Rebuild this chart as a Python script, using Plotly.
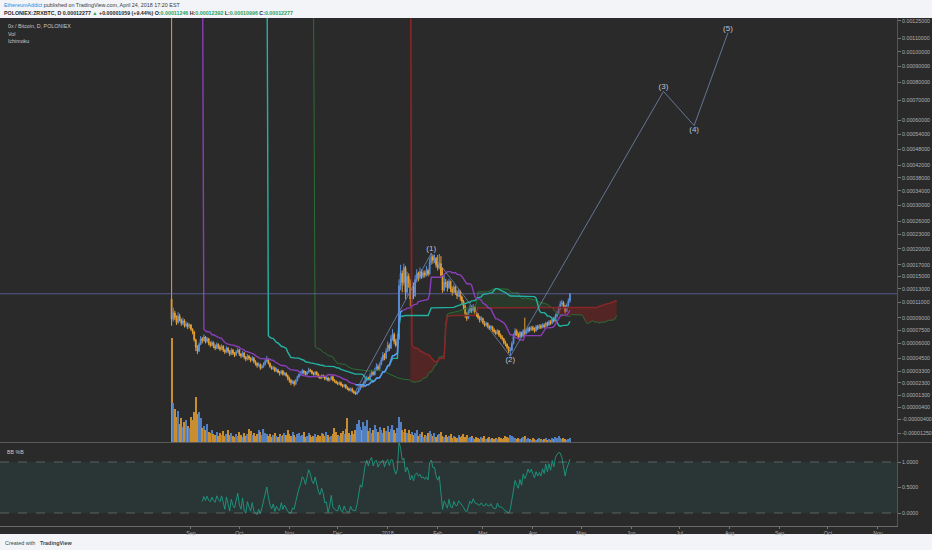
import pandas as pd
import numpy as np
import plotly.graph_objects as go

# ZRX/BTC daily candles (Poloniex), prices in satoshi (1e-8 BTC)
FIRST_DAY = "2017-08-20"
FIRST_OPEN = 11500
CLOSE = [
    8800, 9600, 9000, 8400, 9200, 8700, 8300, 8600, 8000, 8200,
    7900, 8100, 7600, 7300, 6400, 5600, 5200, 5900, 6500, 6300,
    6700, 6200, 6500, 6000, 5800, 6100, 5700, 5500, 5900, 5600,
    5400, 5700, 5300, 5100, 5500, 5200, 4900, 5300, 5000, 4800,
    5100, 5300, 4900, 4700, 5000, 4600, 4400, 4700, 4500, 4300,
    4500, 4200, 4000, 3800, 3900, 3600, 3700, 3900, 4200, 4400,
    4000, 3700, 3500, 3600, 3300, 3400, 3200, 3100, 3300, 3000,
    3100, 2900, 2700, 2500, 2300, 2400, 2200, 2500, 2800, 3000,
    3100, 3300, 3200, 3000, 3200, 3400, 3300, 3100, 3000, 3200,
    3000, 2800, 2700, 2900, 2800, 2600, 2700, 2500, 2600, 2800,
    2500, 2400, 2300, 2200, 2300, 2100, 2000, 2100, 1900, 1800,
    1700, 1800, 1600, 1500, 1400, 1550, 1800, 2100, 2000, 2300,
    2500, 2700, 2600, 2900, 3200, 3000, 3400, 3700, 3500, 3900,
    4300, 4800, 4500, 5200, 5800, 5500, 6500, 7000, 6200, 5800,
    6500, 13500, 15500, 14000, 16500, 12500, 15000, 14000, 11500, 13500,
    12000, 14500, 15500, 14800, 15800, 15000, 15600, 15200, 16000, 15400,
    17500, 18500, 17800, 18200, 17000, 16500, 17200, 15200, 12800, 14000,
    13800, 13200, 14200, 13000, 12500, 13300, 12400, 12000, 12600, 11800,
    11200, 10500, 9500, 8900, 9800, 10300, 9900, 10400, 9700, 9400,
    9000, 8700, 8900, 8400, 8100, 8300, 7900, 7700, 7900, 7500,
    7300, 7100, 7400, 6900, 6700, 6500, 6100, 5900, 5600, 5200,
    5300, 6000, 6900, 7400, 7000, 6700, 7200, 6800, 7400, 7100,
    7300, 7700, 7500, 7800, 7600, 7400, 7900, 7700, 8000, 7800,
    8100, 7900, 8300, 8100, 8500, 8300, 8800, 8600, 9200, 9600,
    10200, 10800, 11000, 10500, 9800, 10600, 11246, 12277,
]
HIGH = [
    600000, 10300, 9900, 9300, 9700, 9500, 8900, 9000, 8800, 8500,
    8400, 8300, 8200, 7700, 7400, 6500, 5800, 6100, 6800, 6700,
    7000, 6800, 6700, 6600, 6200, 6300, 6200, 5900, 6100, 6000,
    5800, 5900, 5800, 5400, 5700, 5600, 5300, 5500, 5400, 5100,
    5300, 5500, 5400, 5000, 5200, 5100, 4700, 4900, 4800, 4600,
    4700, 4600, 4300, 4100, 4100, 4000, 3900, 4100, 4400, 4700,
    4500, 4100, 3800, 3800, 3700, 3600, 3500, 3300, 3400, 3400,
    3200, 3200, 3000, 2800, 2600, 2500, 2500, 2600, 2900, 3100,
    3300, 3500, 3400, 3300, 3300, 3600, 3500, 3400, 3200, 3300,
    3300, 3100, 2900, 3000, 3000, 2900, 2900, 2800, 2700, 2900,
    2900, 2600, 2500, 2400, 2400, 2400, 2200, 2200, 2200, 2000,
    1900, 1900, 1900, 1700, 1600, 1650, 1900, 2200, 2200, 2400,
    2700, 2900, 2800, 3100, 3400, 3300, 3600, 4000, 3900, 4100,
    4600, 5100, 5000, 5500, 6200, 6000, 6900, 7600, 7200, 6500,
    7000, 14500, 17000, 16000, 17200, 16800, 15800, 15500, 14500, 14200,
    14000, 15200, 16200, 15800, 16500, 16200, 16000, 16000, 16800, 16300,
    18200, 19200, 18800, 18900, 18400, 18800, 19000, 18600, 16500, 15200,
    14600, 14300, 14600, 14300, 13400, 13700, 13500, 12800, 13000, 12800,
    12000, 11400, 10700, 9700, 10100, 10700, 10500, 10800, 10500, 9900,
    9600, 9200, 9200, 9000, 8600, 8500, 8400, 8100, 8100, 8000,
    7700, 7500, 7600, 7500, 7100, 6900, 6600, 6300, 6000, 5700,
    5600, 6200, 7100, 7700, 7600, 7200, 7400, 7300, 7600, 9000,
    7600, 7900, 7900, 8000, 8000, 7800, 8100, 8100, 8200, 8200,
    8300, 8300, 8500, 8500, 8700, 8700, 9000, 9100, 9500, 9900,
    10500, 11200, 11400, 11200, 10700, 10900, 11600, 12392,
]
LOW = [
    8000, 8500, 8700, 8100, 8200, 8500, 8000, 8100, 7800, 7800,
    7600, 7700, 7400, 7000, 6200, 5200, 4900, 5100, 5800, 6000,
    6200, 6000, 6100, 5800, 5600, 5700, 5500, 5300, 5400, 5400,
    5200, 5300, 5100, 4900, 5000, 5000, 4700, 4800, 4800, 4600,
    4700, 5000, 4700, 4500, 4600, 4400, 4200, 4300, 4300, 4100,
    4200, 4000, 3800, 3600, 3700, 3400, 3500, 3600, 3800, 4100,
    3900, 3600, 3400, 3400, 3200, 3200, 3100, 2900, 3000, 2900,
    2900, 2800, 2500, 2300, 2100, 2200, 2000, 2100, 2400, 2700,
    2900, 3000, 3000, 2900, 2900, 3100, 3200, 3000, 2900, 2900,
    2900, 2700, 2600, 2600, 2700, 2500, 2500, 2400, 2400, 2500,
    2400, 2300, 2200, 2100, 2100, 2000, 1900, 1900, 1800, 1700,
    1600, 1600, 1500, 1400, 1350, 1350, 1500, 1700, 1900, 1900,
    2200, 2400, 2500, 2500, 2800, 2900, 2900, 3300, 3300, 3400,
    3800, 4200, 4300, 4400, 5100, 5200, 5400, 6300, 5900, 5600,
    5700, 6400, 12800, 12500, 13500, 11500, 12000, 13200, 10500, 11000,
    11500, 11800, 14000, 14200, 14500, 14600, 14700, 14800, 15000, 15000,
    15200, 17000, 17200, 17300, 16500, 16000, 16200, 15000, 12400, 12600,
    13200, 12600, 13000, 12500, 12000, 12300, 12100, 11500, 11800, 11300,
    10800, 10100, 9000, 8600, 8800, 9600, 9600, 9800, 9400, 9100,
    8800, 8400, 8500, 8200, 7900, 7900, 7700, 7500, 7500, 7300,
    7100, 6900, 7000, 6700, 6500, 6300, 5900, 5700, 5400, 5000,
    4700, 5200, 5900, 6800, 6800, 6500, 6600, 6600, 6700, 6900,
    7000, 7200, 7300, 7400, 7400, 7200, 7300, 7500, 7600, 7600,
    7700, 7700, 7800, 7900, 8000, 8100, 8200, 8400, 8500, 9000,
    9400, 10000, 10500, 10200, 9500, 9700, 10400, 10996,
]
VOLUME = [
    104, 39, 33, 25, 31, 18, 24, 15, 20, 22,
    16, 14, 25, 22, 30, 45, 28, 30, 24, 14,
    16, 12, 18, 10, 9, 12, 8, 7, 10, 6,
    9, 7, 11, 6, 8, 12, 7, 9, 6, 5,
    8, 6, 10, 7, 5, 9, 6, 8, 13, 11,
    7, 9, 6, 8, 12, 10, 7, 13, 9, 8,
    6, 8, 5, 7, 9, 6, 5, 8, 6, 7,
    9, 7, 12, 8, 6, 10, 7, 5, 8, 9,
    6, 7, 10, 5, 6, 9, 7, 5, 6, 8,
    5, 7, 6, 9, 8, 6, 10, 7, 5, 6,
    8, 14, 10, 7, 6, 9, 11, 8, 13, 24,
    9, 7, 11, 8, 12, 18, 22, 15, 12, 20,
    16, 22, 11, 14, 9, 12, 17, 13, 10, 15,
    12, 9, 14, 11, 16, 10, 13, 17, 12, 9,
    14, 25, 20, 12, 10, 13, 9, 12, 8, 10,
    7, 9, 12, 6, 8, 10, 5, 7, 6, 9,
    11, 8, 6, 9, 5, 7, 8, 10, 6, 5,
    7, 5, 6, 8, 4, 6, 5, 4, 7, 5,
    6, 8, 5, 7, 4, 5, 6, 4, 3, 5,
    4, 3, 5, 4, 6, 3, 4, 5, 3, 4,
    3, 4, 3, 5, 4, 3, 4, 6, 5, 4,
    7, 6, 5, 4, 3, 4, 3, 4, 5, 6,
    3, 4, 3, 2, 4, 3, 2, 3, 4, 3,
    2, 3, 4, 2, 3, 2, 4, 3, 5, 4,
    6, 4, 3, 4, 3, 2, 3, 4,
]
LAST_PRICE = 0.00012277

# Elliott wave count drawn by the author
WAVE_DATES = ["2017-12-12", "2018-01-28", "2018-03-18", "2018-06-21", "2018-07-10", "2018-07-31"]
WAVE_PRICES = [0.0000160, 0.0001916, 0.0000467, 0.000748, 0.000577, 0.001148]
WAVE_LABELS = ["", "(1)", "(2)", "(3)", "(4)", "(5)"]

PRICE_TICKS = [0.00125, 0.0011, 0.001, 0.0009, 0.0008, 0.0007, 0.0006, 0.00054, 0.00048,
               0.00042, 0.00038, 0.00034, 0.0003, 0.00026, 0.00023, 0.0002, 0.00017,
               0.00015, 0.00013, 0.00011, 0.00009, 0.000075, 0.00006, 0.000045,
               0.000033, 0.000023, 0.000013, 0.000004, -0.000004, -0.0000125]
BBP_TICKS = [0.0, 0.5, 1.0]
MONTH_TICKS = pd.date_range("2017-09-01", "2018-11-01", freq="MS")
MONTH_TEXT = ["2018" if d.month == 1 else d.strftime("%b") for d in MONTH_TICKS]

SAT = 1e-8
Y_SHIFT = 0.000103  # TradingView log scale here behaves like log(price + shift)

BG = "#2a2a2a"
UP = "#5b8fdc"
DOWN = "#e8a030"
FONT = "Liberation Sans"

# ---- series and indicators ----
dates = pd.date_range(FIRST_DAY, periods=len(CLOSE), freq="D")
close = pd.Series(CLOSE, index=dates) * SAT
high = pd.Series(HIGH, index=dates) * SAT
low = pd.Series(LOW, index=dates) * SAT
opn = close.shift(1).fillna(FIRST_OPEN * SAT)


def donchian(n):
    return (high.rolling(n).max() + low.rolling(n).min()) / 2


conv = donchian(20)
base = donchian(60)
ahead = dates.append(pd.date_range(dates[-1] + pd.Timedelta(days=1), periods=29, freq="D"))
lead_a = ((conv + base) / 2).reindex(ahead).shift(29)
lead_b = donchian(120).reindex(ahead).shift(29)

mid = close.rolling(20).mean()
dev = 2 * close.rolling(20).std(ddof=0)
pct_b = (close - (mid - dev)) / (2 * dev)


def sh(s):
    return s + Y_SHIFT


fig = go.Figure()

# volume (bottom of main pane)
vol_colors = [UP if c >= o else DOWN for o, c in zip(opn, close)]
fig.add_trace(go.Bar(x=dates, y=VOLUME, marker=dict(color=vol_colors, line_width=0),
                     opacity=0.85, xaxis="x", yaxis="y"))

# ichimoku cloud
both = lead_a.notna() & lead_b.notna()
a2, b2 = lead_a[both], lead_b[both]
lo2 = np.minimum(a2, b2)
fig.add_trace(go.Scatter(x=b2.index, y=sh(b2), mode="lines", line=dict(width=0),
                         xaxis="x", yaxis="y2", hoverinfo="skip"))
fig.add_trace(go.Scatter(x=b2.index, y=sh(lo2), mode="lines", line=dict(width=0),
                         fill="tonexty", fillcolor="rgba(150,30,30,0.38)",
                         xaxis="x", yaxis="y2", hoverinfo="skip"))
fig.add_trace(go.Scatter(x=a2.index, y=sh(a2), mode="lines", line=dict(width=0),
                         xaxis="x", yaxis="y2", hoverinfo="skip"))
fig.add_trace(go.Scatter(x=a2.index, y=sh(lo2), mode="lines", line=dict(width=0),
                         fill="tonexty", fillcolor="rgba(40,120,50,0.22)",
                         xaxis="x", yaxis="y2", hoverinfo="skip"))
fig.add_trace(go.Scatter(x=ahead, y=sh(lead_a), mode="lines", line=dict(color="#2c6e35", width=1),
                         xaxis="x", yaxis="y2"))
fig.add_trace(go.Scatter(x=ahead, y=sh(lead_b), mode="lines", line=dict(color="#852727", width=1.6),
                         xaxis="x", yaxis="y2"))

# candles
fig.add_trace(go.Candlestick(
    x=dates, open=sh(opn), high=sh(high), low=sh(low), close=sh(close),
    increasing=dict(line=dict(color=UP, width=1), fillcolor=UP),
    decreasing=dict(line=dict(color=DOWN, width=1), fillcolor=DOWN),
    whiskerwidth=0, xaxis="x", yaxis="y2"))

# conversion / base lines
fig.add_trace(go.Scatter(x=dates, y=sh(base), mode="lines", line=dict(color="#22b3a3", width=1.4),
                         xaxis="x", yaxis="y2"))
fig.add_trace(go.Scatter(x=dates, y=sh(conv), mode="lines", line=dict(color="#8a3db8", width=1.4),
                         xaxis="x", yaxis="y2"))
seg = conv["2017-12-12":"2018-01-10"]
fig.add_trace(go.Scatter(x=seg.index, y=sh(seg), mode="lines", line=dict(color="#4da6f0", width=1.4),
                         xaxis="x", yaxis="y2"))

# wave count
wave_x = pd.to_datetime(WAVE_DATES)
wave_y = [p + Y_SHIFT for p in WAVE_PRICES]
fig.add_trace(go.Scatter(x=wave_x, y=wave_y, mode="lines", line=dict(color="#7488b0", width=0.8),
                         xaxis="x", yaxis="y2"))
fig.add_trace(go.Scatter(x=wave_x, y=wave_y, mode="text", text=WAVE_LABELS,
                         textposition=["top center", "top center", "bottom center",
                                       "top center", "bottom center", "top center"],
                         textfont=dict(color="#b9c3da", size=8, family=FONT),
                         xaxis="x", yaxis="y2"))

# BB %B pane
fig.add_trace(go.Scatter(x=dates, y=pct_b, mode="lines", line=dict(color="#1d9a82", width=0.9),
                         xaxis="x2", yaxis="y3"))

# ---- layout ----
PLOT_W, PLOT_H = 897, 508   # plot area in px (top at 18, bottom at 526)


def py(p):
    return (526 - p) / PLOT_H


def px(p):
    return p / PLOT_W


MAIN_BOTTOM = py(442)
SUB_TOP = py(443)
price_range = [np.log10(-0.0000176 + Y_SHIFT), np.log10(0.001274 + Y_SHIFT)]

axis_font = dict(family=FONT, size=5.3, color="#b0b0b0")
fig.update_layout(
    width=932, height=550,
    margin=dict(l=0, r=35, t=18, b=24),
    paper_bgcolor="#f2f4f7", plot_bgcolor=BG,
    showlegend=False, bargap=0.3,
    font=dict(family=FONT, size=5.3, color="#b0b0b0"),
    xaxis=dict(domain=[0, 1], anchor="y", type="date",
               range=["2017-05-05 14:00", "2018-11-12 19:00"],
               showticklabels=False, showgrid=False, zeroline=False,
               rangeslider=dict(visible=False)),
    xaxis2=dict(domain=[0, 1], anchor="y3", type="date", matches="x",
                tickvals=MONTH_TICKS, ticktext=MONTH_TEXT, tickfont=axis_font,
                showgrid=False, zeroline=False, showline=True, linecolor="#6a6a6a",
                ticks="outside", ticklen=2, tickcolor="#777"),
    yaxis=dict(domain=[MAIN_BOTTOM, 1], range=[0, max(VOLUME) / 0.245], visible=False),
    yaxis2=dict(overlaying="y", anchor="x", side="right", type="log", range=price_range,
                tickvals=[v + Y_SHIFT for v in PRICE_TICKS],
                ticktext=[f"{v:.8f}" for v in PRICE_TICKS], tickfont=axis_font,
                showgrid=False, zeroline=False, showline=True, linecolor="#555",
                ticks="outside", ticklen=3, tickcolor="#777"),
    yaxis3=dict(domain=[0, SUB_TOP], anchor="x2", side="right", range=[-0.255, 1.3725],
                tickvals=BBP_TICKS, ticktext=[f"{v:.4f}" for v in BBP_TICKS], tickfont=axis_font,
                showgrid=False, zeroline=False, showline=True, linecolor="#555",
                ticks="outside", ticklen=3, tickcolor="#777"),
)

shapes = [
    dict(type="rect", xref="paper", yref="paper", x0=0, x1=px(932), y0=py(534), y1=1,
         fillcolor=BG, line=dict(width=0), layer="below"),
    dict(type="rect", xref="paper", yref="y3", x0=0, x1=1, y0=0, y1=1,
         fillcolor="rgba(38,166,154,0.10)", line=dict(width=0), layer="below"),
    dict(type="line", xref="paper", yref="y3", x0=0, x1=1, y0=1, y1=1,
         line=dict(color="rgba(160,160,160,0.55)", width=0.8, dash="dash")),
    dict(type="line", xref="paper", yref="y3", x0=0, x1=1, y0=0, y1=0,
         line=dict(color="rgba(160,160,160,0.55)", width=0.8, dash="dash")),
    dict(type="line", xref="paper", yref="paper", x0=0, x1=px(932), y0=py(442.5), y1=py(442.5),
         line=dict(color="#5a5a5a", width=1)),
    dict(type="line", xref="paper", yref="y2", x0=0, x1=1,
         y0=LAST_PRICE + Y_SHIFT, y1=LAST_PRICE + Y_SHIFT,
         line=dict(color="rgba(110,120,205,0.6)", width=1)),
]
fig.update_layout(shapes=shapes)

GREEN = "#2ea25a"
header2 = ("<b>POLONIEX:ZRXBTC, D 0.00012277 <span style='color:%s'>▲</span> +0.00001059 (+9.44%%) "
           "O:<span style='color:%s'>0.00011246</span> H:<span style='color:%s'>0.00012392</span> "
           "L:<span style='color:%s'>0.00010996</span> C:<span style='color:%s'>0.00012277</span></b>"
           % ((GREEN,) * 5))
notes = [
    dict(text="<span style='color:#2a8de0'>EthereumAddict</span> published on TradingView.com, April 24, 2018 17:20 EST",
         x=px(2), y=py(5), font=dict(family=FONT, size=5.4, color="#3c3c3c")),
    dict(text=header2, x=px(2), y=py(13), font=dict(family=FONT, size=5.3, color="#2a2a2a")),
    dict(text="0x / Bitcoin, D, POLONIEX", x=px(6), y=py(26), font=dict(family=FONT, size=5.3, color="#c8c8c8")),
    dict(text="Vol", x=px(6), y=py(34), font=dict(family=FONT, size=5.3, color="#c8c8c8")),
    dict(text="Ichimoku", x=px(6), y=py(41), font=dict(family=FONT, size=5.3, color="#c8c8c8")),
    dict(text="BB %B", x=px(5), y=py(452), font=dict(family=FONT, size=5.3, color="#c8c8c8")),
    dict(text="Created with", x=px(3), y=py(543), font=dict(family=FONT, size=5.4, color="#444")),
    dict(text="<b>TradingView</b>", x=px(38), y=py(543), font=dict(family=FONT, size=5.4, color="#444")),
]
for n in notes:
    fig.add_annotation(xref="paper", yref="paper", xanchor="left", yanchor="middle",
                       showarrow=False, **n)

fig.add_annotation(xref="paper", yref="y2", x=1, y=LAST_PRICE + Y_SHIFT, xanchor="left",
                   xshift=1, showarrow=False, text="0.00012277", bgcolor="#3d7be0",
                   borderpad=1, font=dict(family=FONT, size=5.3, color="white"))

# the page body keeps its default 8px margin otherwise
fig.write_html("out.html", config={"displayModeBar": False},
               post_script="document.body.style.margin='0';")
